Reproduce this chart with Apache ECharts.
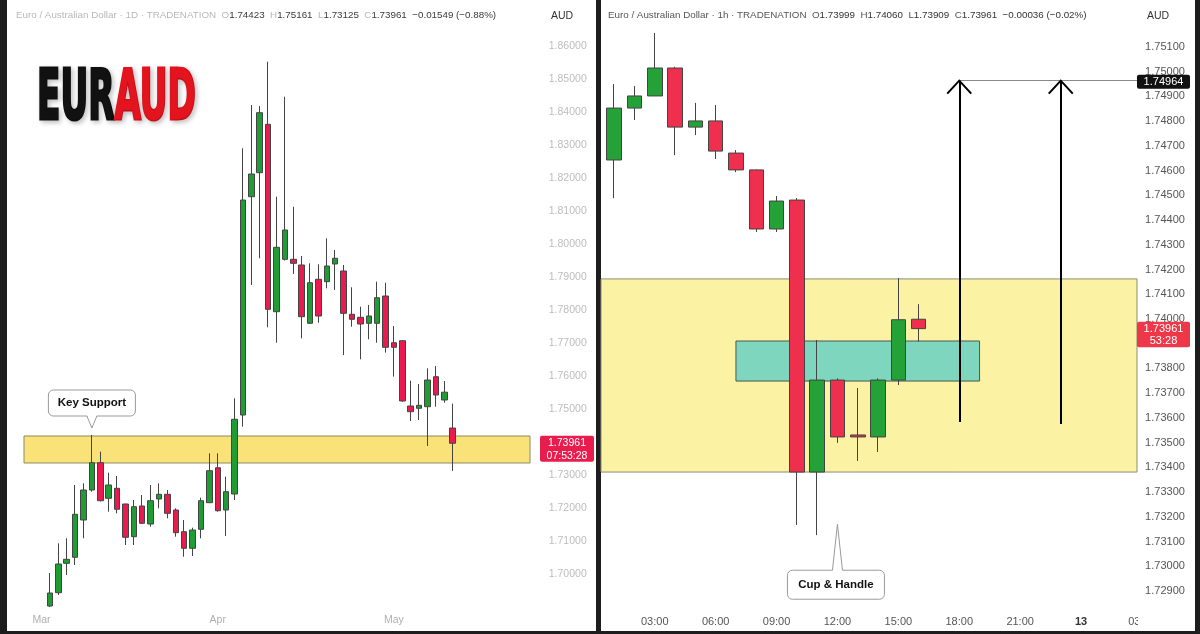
<!DOCTYPE html>
<html><head><meta charset="utf-8">
<script src="https://cdn.jsdelivr.net/npm/echarts@6.0.0/dist/echarts.min.js"></script>
<style>html,body{margin:0;padding:0;background:#1d1d1d;}#c{width:1200px;height:634px;}</style>
</head><body><div id="c"></div>
<script>
// ---------- DATA ----------
const dailyDates = ['2025-02-26','2025-02-27','2025-02-28',
 '2025-03-03','2025-03-04','2025-03-05','2025-03-06','2025-03-07','2025-03-10','2025-03-11','2025-03-12','2025-03-13','2025-03-14','2025-03-17','2025-03-18','2025-03-19','2025-03-20','2025-03-21','2025-03-24','2025-03-25','2025-03-26','2025-03-27','2025-03-28','2025-03-31',
 '2025-04-01','2025-04-02','2025-04-03','2025-04-04','2025-04-07','2025-04-08','2025-04-09','2025-04-10','2025-04-11','2025-04-14','2025-04-15','2025-04-16','2025-04-17','2025-04-21','2025-04-22','2025-04-23','2025-04-24','2025-04-25','2025-04-28','2025-04-29','2025-04-30',
 '2025-05-01','2025-05-02','2025-05-05','2025-05-06','2025-05-07','2025-05-08','2025-05-09','2025-05-12',
 '2025-05-13','2025-05-14','2025-05-15','2025-05-16','2025-05-19','2025-05-20','2025-05-21','2025-05-22','2025-05-23','2025-05-26'];
const dailyFirst = '2025-03-04';
const dailyOpen  = [1.69030,1.69433,1.70324,1.70506,1.71636,1.72545,1.73373,1.72294,1.72597,1.72121,1.71130,1.72061,1.71515,1.72273,1.72415,1.71939,1.71282,1.70779,1.71355,1.72161,1.73221,1.71939,1.72424,1.74818,1.81433,1.82161,1.83627,1.77948,1.79536,1.79536,1.79364,1.77597,1.78930,1.78858,1.79394,1.79182,1.77870,1.77779,1.77597,1.77597,1.78424,1.77009,1.77070,1.75091,1.75021,1.75070,1.75979,1.75273,1.74423];
const dailyClose = [1.69424,1.70303,1.70445,1.71809,1.72545,1.73373,1.72221,1.72697,1.71961,1.71112,1.72039,1.71536,1.72221,1.72415,1.71839,1.71252,1.70779,1.71333,1.72221,1.73130,1.71918,1.72494,1.74688,1.81333,1.82121,1.83979,1.78021,1.79900,1.80424,1.79415,1.77797,1.78827,1.77818,1.79333,1.79567,1.77900,1.77718,1.77576,1.77818,1.78373,1.76870,1.76870,1.75242,1.74918,1.75112,1.75879,1.75424,1.75510,1.73961];
const dailyLow   = [1.69000,1.69364,1.69970,1.70273,1.71082,1.72494,1.72200,1.71888,1.71839,1.70879,1.70879,1.71515,1.71433,1.71991,1.71688,1.71130,1.70524,1.70545,1.71082,1.72150,1.71888,1.71152,1.72242,1.74464,1.78758,1.79567,1.77476,1.77009,1.79500,1.79091,1.77142,1.77580,1.77615,1.78658,1.78606,1.76636,1.77494,1.76506,1.77112,1.77009,1.76706,1.75979,1.75221,1.74636,1.74667,1.73879,1.75070,1.75191,1.73125];
const dailyHigh  = [1.70030,1.70930,1.71082,1.72697,1.72748,1.74212,1.73706,1.73070,1.72970,1.72130,1.72242,1.72394,1.72697,1.72748,1.72545,1.71991,1.71636,1.71403,1.72312,1.73658,1.73658,1.72950,1.75324,1.82900,1.84212,1.84182,1.85524,1.81433,1.84464,1.81130,1.79636,1.79415,1.79385,1.80173,1.79818,1.79364,1.78688,1.78100,1.78152,1.78858,1.78827,1.77515,1.77080,1.75858,1.75758,1.76233,1.76303,1.75848,1.75161];
const dailyZone = [1.74182, 1.73364];
const dailyCountdown = '07:53:28';

const hourlyTimes = ['2025-05-12 01:00','2025-05-12 02:00','2025-05-12 03:00','2025-05-12 04:00','2025-05-12 05:00','2025-05-12 06:00','2025-05-12 07:00','2025-05-12 08:00','2025-05-12 09:00','2025-05-12 10:00','2025-05-12 11:00','2025-05-12 12:00','2025-05-12 13:00','2025-05-12 14:00','2025-05-12 15:00','2025-05-12 16:00','2025-05-12 17:00','2025-05-12 18:00','2025-05-12 19:00','2025-05-12 20:00','2025-05-12 21:00','2025-05-12 22:00','2025-05-12 23:00','2025-05-13 00:00','2025-05-13 01:00','2025-05-13 02:00','2025-05-13 03:00'];
const hourlyOpen  = [1.74643,1.74853,1.74902,1.75015,1.74776,1.74801,1.74671,1.74603,1.74364,1.74481,1.73381,1.73753,1.73531,1.73523,1.73753,1.73999];
const hourlyClose = [1.74853,1.74902,1.75015,1.74776,1.74801,1.74679,1.74603,1.74364,1.74477,1.73381,1.73753,1.73523,1.73523,1.73753,1.73997,1.73961];
const hourlyLow   = [1.74489,1.74805,1.74902,1.74663,1.74744,1.74647,1.74594,1.74352,1.74352,1.73167,1.73126,1.73499,1.73426,1.73462,1.73733,1.73909];
const hourlyHigh  = [1.74950,1.74942,1.75157,1.75020,1.74874,1.74865,1.74683,1.74605,1.74497,1.74489,1.73915,1.73760,1.73721,1.73760,1.74166,1.74060];
const hourlyZone = [1.74162, 1.73381];
const handleZone = [1.73911, 1.73749];
const handleFrom = '2025-05-12 07:00', handleTo = '2025-05-12 19:00';
const targetPrice = 1.74964;
const arrowTimes = ['2025-05-12 18:00', '2025-05-12 23:00'];
const arrowBases = [1.73583, 1.73575];
const hourlyCountdown = '53:28';
const cupTime = '2025-05-12 12:00', cupPrice = 1.7317;
const keyTime = '2025-03-11', keyPrice = 1.74424;
const MONTHS = ['Jan','Feb','Mar','Apr','May','Jun','Jul','Aug','Sep','Oct','Nov','Dec'];

// ---------- BUILD ----------
const FONT = '"Liberation Sans", Arial, sans-serif';
const dOff = dailyDates.indexOf(dailyFirst);
const dailyData = dailyDates.map((d, i) => {
  const k = i - dOff;
  return (k >= 0 && k < dailyOpen.length) ? [dailyOpen[k], dailyClose[k], dailyLow[k], dailyHigh[k]] : ['-','-','-','-'];
});
const hourlyData = hourlyTimes.map((t, i) =>
  i < hourlyOpen.length ? [hourlyOpen[i], hourlyClose[i], hourlyLow[i], hourlyHigh[i]] : ['-','-','-','-']);
const hIdx = t => hourlyTimes.indexOf(t);

const chart = echarts.init(document.getElementById('c'));
const noAxis = {axisLine:{show:false}, axisTick:{show:false}, splitLine:{show:false}};

const option = {
  backgroundColor: '#1d1d1d',
  animation: false,
  grid: [
    {left: 12.2, top: 13, width: 528.57, height: 627, containLabel: false, outerBoundsMode: 'none'},
    {left: 604, top: 22.27, width: 548.1, height: 593.45, containLabel: false, outerBoundsMode: 'none'}
  ],
  xAxis: [
    Object.assign({type:'category', gridIndex:0, data: dailyDates, boundaryGap:true, offset:-25,
      axisLabel:{interval:0, margin:0, color:'#b0b0b0', fontSize:10.5, fontFamily:FONT,
        formatter:(v, i) => {
          if (i === 0) return '';
          const m = v.slice(5,7);
          return m !== dailyDates[i-1].slice(5,7) ? MONTHS[+m - 1] : '';
        }}}, noAxis),
    Object.assign({type:'category', gridIndex:1, data: hourlyTimes, boundaryGap:true,
      axisLabel:{interval:0, margin:1, color:'#555', fontSize:11, fontFamily:FONT,
        formatter:(v) => {
          const hh = v.slice(11,13);
          if (hh === '00') return '{d|' + (+v.slice(8,10)) + '}';
          return (+hh % 3 === 0) ? v.slice(11) : '';
        },
        rich:{d:{fontWeight:'bold', color:'#333', fontSize:11, fontFamily:FONT}}}}, noAxis)
  ],
  yAxis: [
    Object.assign({type:'value', gridIndex:0, position:'right', min:1.68, max:1.87, interval:0.01,
      axisLabel:{margin:8, color:'#bdbdbd', fontSize:10.5, fontFamily:FONT, showMinLabel:false, showMaxLabel:false,
        formatter: v => v < 1.695 ? '' : v.toFixed(5)}}, noAxis),
    Object.assign({type:'value', gridIndex:1, position:'right', offset:-15, min:1.728, max:1.752, interval:0.001,
      axisLabel:{margin:8, color:'#555', fontSize:11, fontFamily:FONT, showMinLabel:false, showMaxLabel:false,
        formatter: v => v.toFixed(5)}}, noAxis)
  ],
  series: [
    {
      type:'candlestick', xAxisIndex:0, yAxisIndex:0, barWidth:6, data: dailyData, silent:true,
      itemStyle:{color:'#1f9c33', color0:'#ea1a4f', borderColor:'#444', borderColor0:'#444', borderWidth:1},
      markArea:{silent:true,
        itemStyle:{color:'#f9e277', borderColor:'#8e8a62', borderWidth:1},
        data:[[{x:24, yAxis: dailyZone[0]}, {x:530, yAxis: dailyZone[1]}]]}
    },
    {
      type:'candlestick', xAxisIndex:1, yAxisIndex:1, barWidth:15, data: hourlyData, silent:true,
      itemStyle:{color:'#24a238', color0:'#ee2f4e', borderColor:'#444', borderColor0:'#444', borderWidth:1},
      markArea:{silent:true, data:[
        [{x:601, yAxis: hourlyZone[0], itemStyle:{color:'#fbf2a3', borderColor:'#8d8d78', borderWidth:1}}, {x:1137, yAxis: hourlyZone[1]}],
        [{xAxis: hIdx(handleFrom), yAxis: handleZone[0], itemStyle:{color:'#7fd6be', borderColor:'#4d5853', borderWidth:1}}, {xAxis: hIdx(handleTo), yAxis: handleZone[1]}]
      ]},
      markLine:{silent:true, symbol:['none','none'], label:{show:false},
        data:[
          [{xAxis: hIdx(arrowTimes[0]), yAxis: targetPrice, lineStyle:{color:'#8a8a8a', width:1, type:'solid'}}, {x:1137, yAxis: targetPrice}],
          [{xAxis: hIdx(arrowTimes[0]), yAxis: arrowBases[0], lineStyle:{color:'#000', width:2, type:'solid'}}, {xAxis: hIdx(arrowTimes[0]), yAxis: targetPrice}],
          [{xAxis: hIdx(arrowTimes[1]), yAxis: arrowBases[1], lineStyle:{color:'#000', width:2, type:'solid'}}, {xAxis: hIdx(arrowTimes[1]), yAxis: targetPrice}]
        ]}
    }
  ]
};
chart.setOption(option);

// ---------- ANNOTATIONS ----------
const P = (g, x, y) => chart.convertToPixel({gridIndex: g}, [x, y]);
const sgn = (v, d) => (v < 0 ? '\u2212' : '+') + Math.abs(v).toFixed(d);
function header(tf, o, h, l, c, prev) {
  const ch = c - prev;
  return '{t|Euro / Australian Dollar \u00b7 ' + tf + ' \u00b7 TRADENATION}  {k|O}{v|' + o.toFixed(5) + '}  {k|H}{v|' + h.toFixed(5) +
    '}  {k|L}{v|' + l.toFixed(5) + '}  {k|C}{v|' + c.toFixed(5) + '}  {v|' + sgn(ch, 5) + ' (' + sgn(ch / prev * 100, 2) + '%)}';
}
const nD = dailyOpen.length - 1, nH = hourlyOpen.length - 1;

// logo width measure
const cv = document.createElement('canvas').getContext('2d');
const logoFont = 'bold 70px "Liberation Sans Narrow", "DejaVu Sans Condensed", sans-serif';
cv.font = logoFont;
const logoW = cv.measureText('EURAUD').width;
const logoScale = 159 / logoW;

const G = [];
G.push({type:'rect', z:-10, silent:true, shape:{x:7, y:0, width:589, height:631}, style:{fill:'#fff'}});
G.push({type:'rect', z:-10, silent:true, shape:{x:601, y:0, width:594, height:631}, style:{fill:'#fff'}});
// cover for clipped time label under right price scale
G.push({type:'rect', z:100, silent:true, shape:{x:1138, y:606, width:57, height:25}, style:{fill:'#fff'}});

// headers
const HF = '9.8px ' + FONT;
G.push({type:'text', z:50, x:16, y:15, style:{text: header('1D', dailyOpen[nD], dailyHigh[nD], dailyLow[nD], dailyClose[nD], dailyClose[nD-1]),
  verticalAlign:'middle', font:HF, fill:'#b8b8b8',
  rich:{t:{fill:'#b8b8b8', font:HF}, k:{fill:'#b8b8b8', font:HF}, v:{fill:'#3a3a3a', font:HF}}}});
G.push({type:'text', z:50, x:608, y:15, style:{text: header('1h', hourlyOpen[nH], hourlyHigh[nH], hourlyLow[nH], hourlyClose[nH], hourlyClose[nH-1]),
  verticalAlign:'middle', font:HF, fill:'#555',
  rich:{t:{fill:'#555', font:HF}, k:{fill:'#555', font:HF}, v:{fill:'#333', font:HF}}}});
G.push({type:'text', z:50, x:562, y:16, style:{text:'AUD', align:'center', verticalAlign:'middle', font:'10.5px ' + FONT, fill:'#333'}});
G.push({type:'text', z:50, x:1158, y:16, style:{text:'AUD', align:'center', verticalAlign:'middle', font:'10.5px ' + FONT, fill:'#333'}});

// logo
const logoRich = (c) => ({fill:c, stroke:c, lineWidth:3, font: logoFont, textShadowColor:'rgba(0,0,0,0.22)', textShadowBlur:5, textShadowOffsetX:2, textShadowOffsetY:2});
G.push({type:'text', z:50, x:37, y:101, scaleX: logoScale, scaleY: 1, style:{text:'{a|EUR}{b|AUD}', verticalAlign:'middle', font: logoFont,
  rich:{a: logoRich('#111'), b: logoRich('#e4141f')}}});

// callouts
function callout(tip, bx, by, bw, bh, down, text) {
  const bc = '#9a9a9a';
  G.push({type:'rect', z:60, shape:{x:bx, y:by, width:bw, height:bh, r:5}, style:{fill:'#fff', stroke:bc, lineWidth:1}});
  const edge = down ? by + bh : by;
  G.push({type:'polygon', z:61, shape:{points:[[tip[0]-5, down ? edge - 1 : edge + 1],[tip[0]+5, down ? edge - 1 : edge + 1],[tip[0], tip[1]]]}, style:{fill:'#fff'}});
  G.push({type:'polyline', z:62, shape:{points:[[tip[0]-5, edge],[tip[0], tip[1]],[tip[0]+5, edge]]}, style:{stroke:bc, lineWidth:1, fill:null}});
  G.push({type:'text', z:63, x:bx + bw/2, y:by + bh/2, style:{text:text, align:'center', verticalAlign:'middle', font:'bold 11.5px ' + FONT, fill:'#111'}});
}
const kt = P(0, dailyDates.indexOf(keyTime), keyPrice);
callout(kt, kt[0]-43.5, kt[1]-38, 87, 26, true, 'Key Support');
const ct = P(1, hIdx(cupTime), cupPrice);
callout(ct, ct[0]-50, ct[1]+46, 97, 29, false, 'Cup & Handle');

// arrow heads
arrowTimes.forEach(t => {
  const a = P(1, hIdx(t), targetPrice);
  G.push({type:'polyline', z:40, shape:{points:[[a[0]-12, a[1]+13],[a[0], a[1]],[a[0]+12, a[1]+13]]}, style:{stroke:'#000', lineWidth:2, fill:null}});
});

// price labels
const ly = P(0, 0, dailyClose[nD])[1];
G.push({type:'rect', z:70, shape:{x:540, y:ly-7.5, width:54, height:26, r:2}, style:{fill:'#e91c4e'}});
G.push({type:'text', z:71, x:567, y:ly, style:{text: dailyClose[nD].toFixed(5), align:'center', verticalAlign:'middle', font:'10.5px ' + FONT, fill:'#fff'}});
G.push({type:'text', z:71, x:567, y:ly+12.5, style:{text: dailyCountdown, align:'center', verticalAlign:'middle', font:'10.5px ' + FONT, fill:'#fff'}});
const ry = P(1, 0, hourlyClose[nH])[1];
G.push({type:'rect', z:70, shape:{x:1137, y:ry-7, width:53, height:25.5, r:2}, style:{fill:'#ee3849'}});
G.push({type:'text', z:71, x:1163.5, y:ry, style:{text: hourlyClose[nH].toFixed(5), align:'center', verticalAlign:'middle', font:'11px ' + FONT, fill:'#fff'}});
G.push({type:'text', z:71, x:1163.5, y:ry+12.5, style:{text: hourlyCountdown, align:'center', verticalAlign:'middle', font:'11px ' + FONT, fill:'#fff'}});
const ty = P(1, 0, targetPrice)[1];
G.push({type:'rect', z:70, shape:{x:1137, y:ty-6, width:53, height:14, r:2}, style:{fill:'#111'}});
G.push({type:'text', z:71, x:1163.5, y:ty+1, style:{text: targetPrice.toFixed(5), align:'center', verticalAlign:'middle', font:'11px ' + FONT, fill:'#fff'}});

chart.setOption({graphic: G});
</script>
</body></html>
